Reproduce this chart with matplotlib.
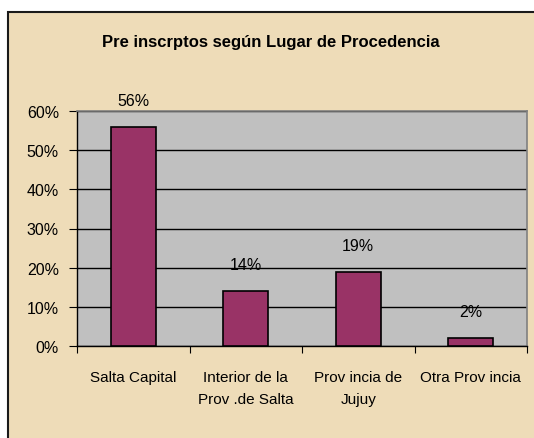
import matplotlib.pyplot as plt
from matplotlib.patches import Rectangle

categorias = ['Salta Capital', 'Interior de la\nProv .de Salta', 'Prov incia de\nJujuy', 'Otra Prov incia']
porcentajes = [56, 14, 19, 2]
etiquetas = ['56%', '14%', '19%', '2%']
yticks = [0, 10, 20, 30, 40, 50, 60]

plt.rcParams['font.family'] = ['Liberation Sans', 'DejaVu Sans']

W, H = 534, 439
fig = plt.figure(figsize=(W / 100, H / 100), dpi=100)
fig.patch.set_facecolor('white')

# fondo tipo pergamino con borde
fondo = Rectangle((8 / W, -0.1), 1.2, (H - 13) / H + 0.1, transform=fig.transFigure,
                  facecolor='#EEDCB8', edgecolor='#1a1a1a', linewidth=1.5, zorder=-5)
fig.patches.append(fondo)

ax = fig.add_axes([77 / W, (H - 347) / H, 450 / W, 235 / H])
ax.set_zorder(2)
ax.set_facecolor('#C0C0C0')

x = range(len(categorias))
ax.bar(x, porcentajes, width=0.4, color='#993366', edgecolor='black', linewidth=1.2, zorder=3)
for xi, v, t in zip(x, porcentajes, etiquetas):
    ax.annotate(t, (xi, v), xytext=(0, 19), textcoords='offset points',
                ha='center', va='center', fontsize=11.5, zorder=4)

ax.set_xlim(-0.5, len(categorias) - 0.5)
ax.set_ylim(0, 60)
ax.set_yticks(yticks)
ax.set_yticklabels([f'{v}%' for v in yticks], fontsize=11.5)
ax.yaxis.grid(True, color='black', linewidth=1, zorder=1)
ax.set_axisbelow(True)

ax.set_xticks([i - 0.5 for i in range(len(categorias) + 1)])
ax.set_xticklabels([])
ax.set_xticks(list(x), minor=True)
ax.set_xticklabels(categorias, minor=True, fontsize=11, linespacing=1.75, va='top')
ax.tick_params(axis='x', which='minor', length=0, pad=17)
ax.tick_params(axis='x', which='major', direction='out', length=5, color='black')
ax.tick_params(axis='y', direction='out', length=6, pad=7, color='black')

for s in ['top', 'right']:
    ax.spines[s].set_color('#808080')
    ax.spines[s].set_linewidth(1.2)
for s in ['left', 'bottom']:
    ax.spines[s].set_color('black')
    ax.spines[s].set_linewidth(1)

fig.text(271 / W, 1 - 43 / H, 'Pre inscrptos según Lugar de Procedencia',
         ha='center', va='center', fontsize=12, fontweight='bold')

fig.savefig('out.png', dpi=100)
